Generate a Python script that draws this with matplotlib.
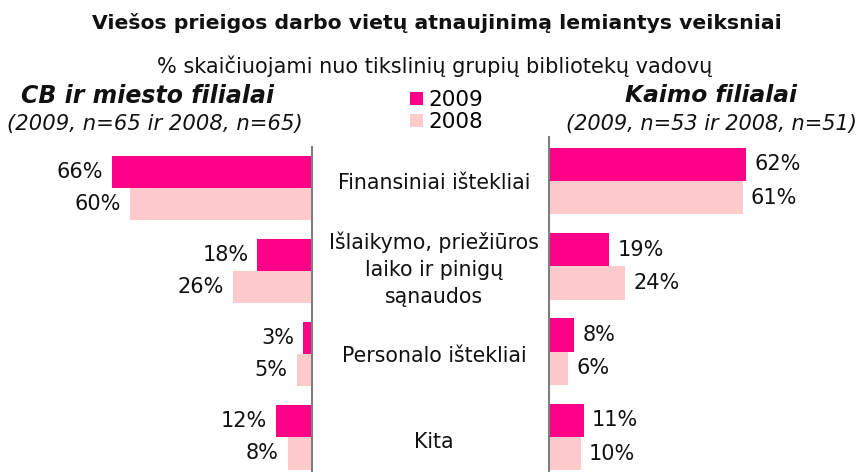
import matplotlib
matplotlib.use("Agg")
import matplotlib.pyplot as plt
from matplotlib.patches import Patch

categories = ["Finansiniai ištekliai",
              "Išlaikymo, priežiūros\nlaiko ir pinigų\nsąnaudos",
              "Personalo ištekliai",
              "Kita"]
city_2009 = [66, 18, 3, 12]
city_2008 = [60, 26, 5, 8]
rural_2009 = [62, 19, 8, 11]
rural_2008 = [61, 24, 6, 10]
series_labels = ["2009", "2008"]

C09 = "#FF0088"
C08 = "#FFCACC"
AXC = "#7F7F7F"
FONT = "DejaVu Sans"
plt.rcParams["font.family"] = [FONT]

W, H = 859, 472
fig = plt.figure(figsize=(W / 100, H / 100), dpi=100)


def px_axes(x0, x1, y0, y1):
    return fig.add_axes([x0 / W, 1 - y1 / H, (x1 - x0) / W, (y1 - y0) / H])


bh = 0.39
ypos = list(range(len(categories)))
LBL = 15

# Left panel
axL = px_axes(0, 312, 147, 472)
axL.set_xlim(103, 0)
axL.set_ylim(3.42, -0.494)
axL.barh([y - bh / 2 for y in ypos], city_2009, height=bh, color=C09)
axL.barh([y + bh / 2 for y in ypos], city_2008, height=bh, color=C08)
for y, v in zip(ypos, city_2009):
    axL.annotate(f"{v}%", (v, y - bh / 2), xytext=(-9, 0), textcoords="offset pixels",
                 ha="right", va="center", fontsize=LBL, color="#111111")
for y, v in zip(ypos, city_2008):
    axL.annotate(f"{v}%", (v, y + bh / 2), xytext=(-9, 0), textcoords="offset pixels",
                 ha="right", va="center", fontsize=LBL, color="#111111")

# Right panel
axR = px_axes(549, 859, 137, 472)
axR.set_xlim(0, 97.5)
axR.set_ylim(3.41, -0.516)
axR.barh([y - bh / 2 for y in ypos], rural_2009, height=bh, color=C09)
axR.barh([y + bh / 2 for y in ypos], rural_2008, height=bh, color=C08)
for y, v in zip(ypos, rural_2009):
    axR.annotate(f"{v}%", (v, y - bh / 2), xytext=(8, 0), textcoords="offset pixels",
                 ha="left", va="center", fontsize=LBL, color="#111111")
for y, v in zip(ypos, rural_2008):
    axR.annotate(f"{v}%", (v, y + bh / 2), xytext=(8, 0), textcoords="offset pixels",
                 ha="left", va="center", fontsize=LBL, color="#111111")

for ax, side in ((axL, "right"), (axR, "left")):
    for s in ax.spines.values():
        s.set_visible(False)
    ax.spines[side].set_visible(True)
    ax.spines[side].set_color(AXC)
    ax.spines[side].set_linewidth(1.5)
    ax.set_xticks([])
    ax.set_yticks([])
    ax.patch.set_alpha(0)

# Category labels, centred between the two panels
axC = px_axes(312, 549, 140, 472)
axC.set_xlim(0, 1)
axC.set_ylim(3.35, -0.498)
axC.axis("off")
for y, c in zip(ypos, categories):
    axC.text(0.515, y, c, ha="center", va="center",
             fontsize=14.8, linespacing=1.45, color="#111111")

# Titles
fig.text(437 / W, 1 - 23 / H, "Viešos prieigos darbo vietų atnaujinimą lemiantys veiksniai",
         ha="center", va="center", fontsize=14.7, fontweight="bold", color="#111111")
fig.text(435 / W, 1 - 66 / H, "% skaičiuojami nuo tikslinių grupių bibliotekų vadovų",
         ha="center", va="center", fontsize=15, color="#111111")
fig.text(148 / W, 1 - 96 / H, "CB ir miesto filialai", ha="center", va="center",
         fontsize=17, fontweight="bold", fontstyle="italic", color="#111111")
fig.text(155 / W, 1 - 124 / H, "(2009, n=65 ir 2008, n=65)", ha="center", va="center",
         fontsize=15.2, fontstyle="italic", color="#111111")
fig.text(711 / W, 1 - 96 / H, "Kaimo filialai", ha="center", va="center",
         fontsize=16.8, fontweight="bold", fontstyle="italic", color="#111111")
fig.text(711 / W, 1 - 124 / H, "(2009, n=53 ir 2008, n=51)", ha="center", va="center",
         fontsize=15, fontstyle="italic", color="#111111")

handles = [Patch(facecolor=C09), Patch(facecolor=C08)]
fig.legend(handles, series_labels, loc="upper left", bbox_to_anchor=(410 / W, 1 - 90 / H),
           frameon=False, fontsize=15.5, handlelength=0.6, handleheight=0.6,
           handletextpad=0.25, labelspacing=0.1, borderpad=0, borderaxespad=0)

fig.savefig("out.png", dpi=100)
